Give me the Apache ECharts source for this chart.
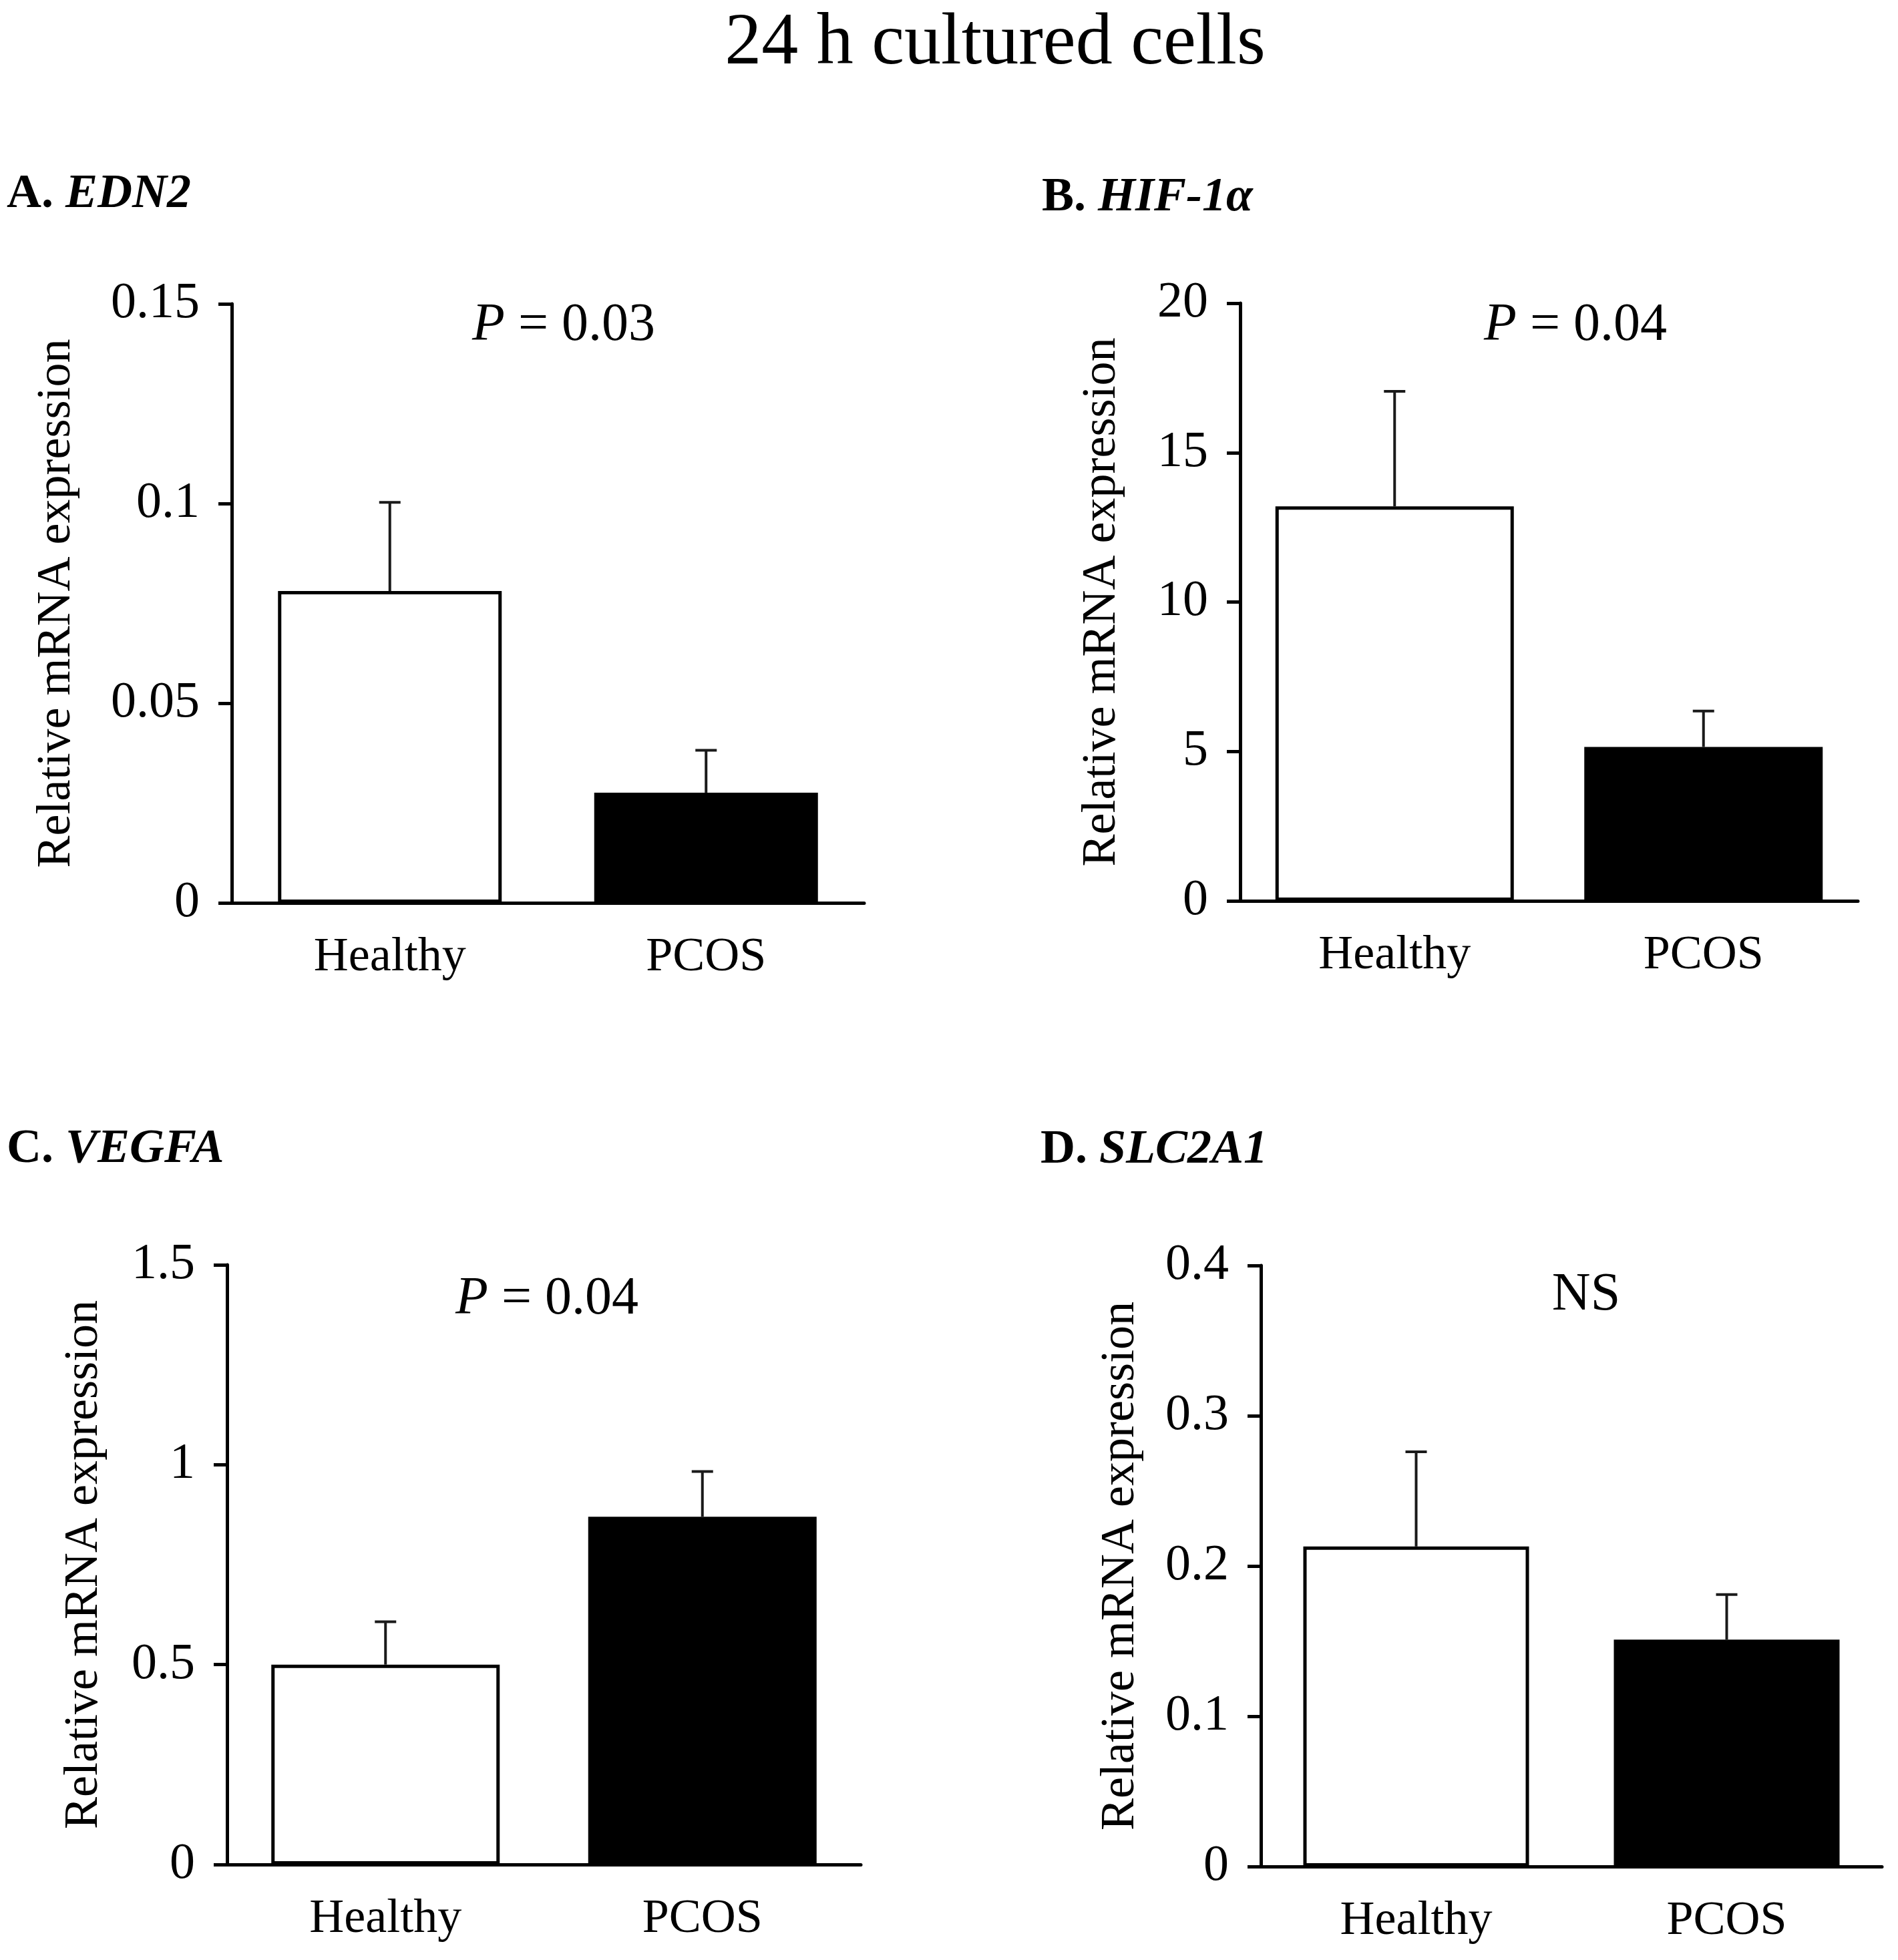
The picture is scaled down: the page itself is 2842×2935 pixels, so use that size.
<!DOCTYPE html>
<html>
<head>
<meta charset="utf-8">
<script src="https://cdn.jsdelivr.net/npm/echarts@6/dist/echarts.min.js"></script>
<style>
  html, body { margin: 0; padding: 0; background: #fff; }
  #main { width: 2842px; height: 2935px; }
</style>
</head>
<body>
<div id="main"></div>
<script>
// groups on the x axis
var groups = ['Healthy', 'PCOS'];

// A. EDN2
var edn2Mean = [0.0781, 0.0276];
var edn2Err = [0.0222, 0.0106];
// B. HIF-1a
var hifMean = [13.2, 5.15];
var hifErr = [3.85, 1.2];
// C. VEGFA
var vegfaMean = [0.50, 0.87];
var vegfaErr = [0.107, 0.113];
// D. SLC2A1
var slcMean = [0.213, 0.151];
var slcErr = [0.063, 0.030];

// y axis ranges per panel
var yMax = [0.15, 20, 1.5, 0.4];
var yStep = [0.05, 5, 0.5, 0.1];

var FONT = '"Liberation Serif", "Times New Roman", serif';
var chart = echarts.init(document.getElementById('main'));

// panel boxes in px: left, top, right, bottom, bar width, name gap
var boxes = [
  [347, 455, 1294, 1352, 335, 226],
  [1857, 454, 2782, 1349, 357, 171],
  [340, 1894, 1289, 2792, 342, 178],
  [1888, 1895, 2818, 2795, 338, 174]
];
var means = [edn2Mean, hifMean, vegfaMean, slcMean];
var errs = [edn2Err, hifErr, vegfaErr, slcErr];

function errorBar(params, api) {
  var base = api.coord([api.value(0), api.value(1)]);
  var top = api.coord([api.value(0), api.value(1) + api.value(2)]);
  var st = { stroke: '#1a1a1a', lineWidth: 4 };
  return {
    type: 'group',
    children: [
      { type: 'line', shape: { x1: base[0], y1: base[1], x2: top[0], y2: top[1] }, style: st },
      { type: 'line', shape: { x1: top[0] - 16, y1: top[1], x2: top[0] + 16, y2: top[1] }, style: st }
    ]
  };
}

var grid = [], xAxis = [], yAxis = [], series = [];
boxes.forEach(function (b, i) {
  grid.push({ left: b[0], top: b[1], width: b[2] - b[0], height: b[3] - b[1], containLabel: false, outerBoundsMode: 'none' });
  xAxis.push({
    type: 'category', gridIndex: i, data: groups,
    axisLine: { lineStyle: { color: '#000', width: 5 } },
    axisTick: { show: false },
    axisLabel: { color: '#000', fontSize: 72, fontFamily: FONT, margin: 46 }
  });
  yAxis.push({
    type: 'value', gridIndex: i, min: 0, max: yMax[i], interval: yStep[i],
    name: 'Relative mRNA expression', nameLocation: 'middle', nameGap: b[5],
    nameTextStyle: { color: '#000', fontSize: 72, fontFamily: FONT },
    axisLine: { show: true, lineStyle: { color: '#000', width: 5 } },
    axisTick: { show: true, length: 20, lineStyle: { color: '#000', width: 5 } },
    splitLine: { show: false },
    axisLabel: { color: '#000', fontSize: 76, fontFamily: FONT, margin: 48 }
  });
  series.push({
    type: 'bar', xAxisIndex: i, yAxisIndex: i, barWidth: b[4],
    data: means[i].map(function (v, k) {
      return {
        value: v,
        itemStyle: k === 0
          ? { color: '#fff', borderColor: '#000', borderWidth: 5 }
          : { color: '#000', borderColor: '#000', borderWidth: 0 }
      };
    }),
    silent: true
  });
  series.push({
    type: 'custom', xAxisIndex: i, yAxisIndex: i, z: 5,
    renderItem: errorBar,
    encode: { x: 0, y: 1 },
    data: means[i].map(function (v, k) { return [k, v, errs[i][k]]; }),
    silent: true
  });
});

function txt(x, y, text, size, align, rich) {
  return {
    type: 'text', x: x, y: y, silent: true,
    style: {
      text: text, fill: '#000', fontSize: size, fontFamily: FONT,
      textAlign: align, textVerticalAlign: 'middle', rich: rich
    }
  };
}
var labelRich = {
  b: { fontSize: 72, fontWeight: 'bold', fontFamily: FONT },
  bi: { fontSize: 72, fontWeight: 'bold', fontStyle: 'italic', fontFamily: FONT }
};
var pRich = {
  i: { fontSize: 80, fontStyle: 'italic', fontFamily: FONT },
  n: { fontSize: 80, fontFamily: FONT }
};

chart.setOption({
  animation: false,
  backgroundColor: '#fff',
  grid: grid,
  xAxis: xAxis,
  yAxis: yAxis,
  series: series,
  graphic: [
    txt(1490, 66, '24 h cultured cells', 110, 'center'),
    txt(10, 291, '{b|A. }{bi|EDN2}', 72, 'left', labelRich),
    txt(1560, 296, '{b|B. }{bi|HIF-1α}', 72, 'left', labelRich),
    txt(10, 1721, '{b|C. }{bi|VEGFA}', 72, 'left', labelRich),
    txt(1558, 1722, '{b|D. }{bi|SLC2A1}', 72, 'left', labelRich),
    txt(844, 488, '{i|P}{n| = 0.03}', 80, 'center', pRich),
    txt(2359, 488, '{i|P}{n| = 0.04}', 80, 'center', pRich),
    txt(819, 1946, '{i|P}{n| = 0.04}', 80, 'center', pRich),
    txt(2375, 1940, 'NS', 80, 'center')
  ]
});
</script>
</body>
</html>
